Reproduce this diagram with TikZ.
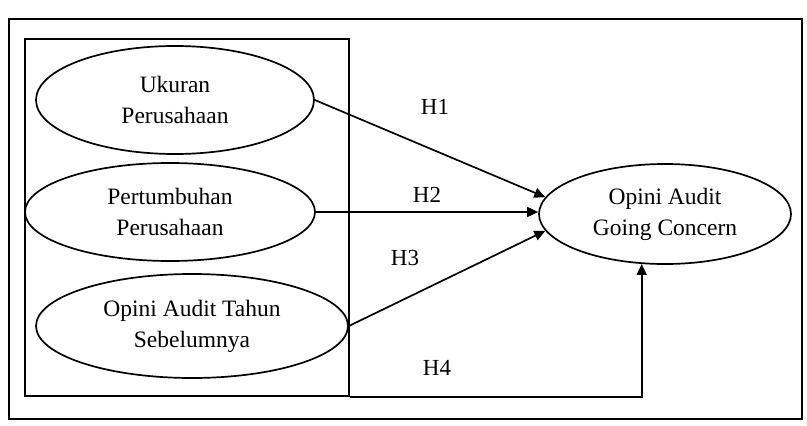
\documentclass[tikz,border=0pt]{standalone}
\usepackage{fontspec}
\setmainfont{Liberation Serif}
\usetikzlibrary{shapes.geometric,arrows.meta}
\begin{document}
\begin{tikzpicture}[x=1pt,y=-1pt,
  txt/.style={font=\fontsize{23.5}{31}\selectfont, align=center},
  oval/.style={ellipse, draw, line width=1.7pt, inner sep=0pt, txt},
  arr/.style={line width=1.7pt, -{Triangle[length=11pt,width=10pt]}},
  lbl/.style={font=\fontsize{23}{28}\selectfont, inner sep=0pt}]
\useasboundingbox (0,0) rectangle (807,426);
\node[draw, line width=2pt, minimum width=793pt, minimum height=400pt, inner sep=0pt] (outer) at (405.5,219) {};
\node[draw, line width=1.3pt, minimum width=324pt, minimum height=357pt, inner sep=0pt] (inner) at (187,217.5) {};
\node[oval, minimum width=278pt, minimum height=108pt] (e1) at (175,100) {Ukuran\\Perusahaan};
\node[oval, minimum width=290pt, minimum height=98pt] (e2) at (170,212) {Pertumbuhan\\Perusahaan};
\node[oval, minimum width=312pt, minimum height=104pt] (e3) at (192,326) {Opini Audit Tahun\\Sebelumnya};
\node[oval, minimum width=252pt, minimum height=100pt] (e4) at (665,214) {Opini Audit\\Going Concern};
\draw[arr] (e1.east) -- (e4.172);
\draw[arr] (e2.east) -- (e2.east -| e4.west);
\draw[arr] (e3.east) -- (e4.188);
\draw[arr] (inner.south east) -| (e4.245);
\node[lbl] (h1) at (435,107) {H1};
\node[lbl] (h2) at (427,195) {H2};
\node[lbl] (h3) at (405,258) {H3};
\node[lbl] (h4) at (437,368) {H4};
\end{tikzpicture}
\end{document}
